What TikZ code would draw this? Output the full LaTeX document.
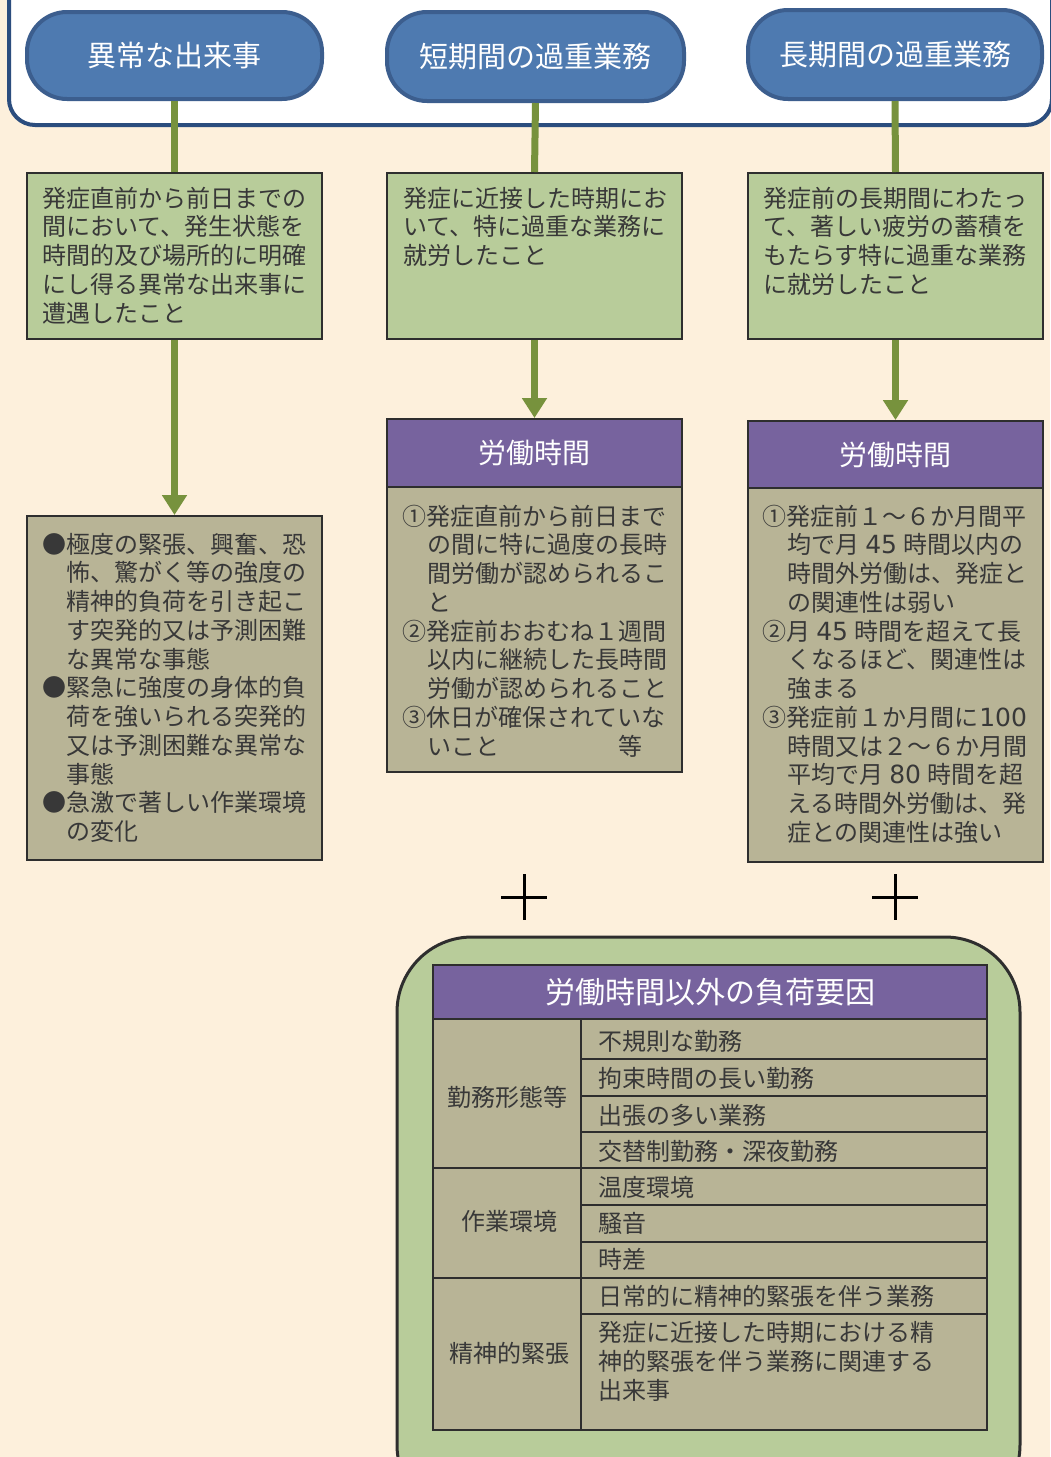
\documentclass[tikz,border=0pt]{standalone}
\usepackage{fontspec}
\setmainfont{Noto Sans CJK JP}
\newfontfamily\digfont{DejaVu Sans}
\usetikzlibrary{arrows.meta}
\definecolor{bg}{HTML}{FDF0DC}
\definecolor{frameblue}{HTML}{2B4D7E}
\definecolor{ovalfill}{HTML}{4E7AB0}
\definecolor{ovalline}{HTML}{3C5E8E}
\definecolor{lgreen}{HTML}{B8CC9A}
\definecolor{gline}{HTML}{77923D}
\definecolor{khaki}{HTML}{B8B496}
\definecolor{purp}{HTML}{77639E}
\definecolor{boxline}{HTML}{2E2E2E}
\definecolor{txt}{HTML}{383838}
\newcommand\dg[2]{\makebox[#1pt]{\digfont\fontsize{25}{28.75}\selectfont #2}}
\begin{document}
\begin{tikzpicture}[x=1pt,y=-1pt,
  oval/.style={draw=ovalline, line width=4pt, fill=ovalfill, rounded corners=40pt,
    minimum width=295pt, minimum height=87pt, inner sep=0pt, text=white,
    font=\fontsize{29}{34}\selectfont},
  gbox/.style={draw=boxline, line width=2pt, fill=lgreen, minimum width=295pt,
    minimum height=166pt, inner sep=0pt},
  kbox/.style={draw=boxline, line width=2pt, fill=khaki, minimum width=295pt, inner sep=0pt},
  phead/.style={draw=boxline, line width=2pt, fill=purp, minimum width=295pt, inner sep=0pt,
    text=white, font=\fontsize{28}{32}\selectfont},
  btext/.style={anchor=base west, inner sep=0pt, text width=300pt, align=left, text=txt,
    font=\fontsize{24}{28.75}\selectfont},
  rowtext/.style={anchor=west, inner sep=0pt, text=txt, font=\fontsize{24}{29}\selectfont},
  conn/.style={draw=gline, line width=7pt},
  arr/.style={conn, -{Triangle[width=24pt,length=20pt]}},
  rule/.style={draw=boxline, line width=2.5pt},
  plus/.style={draw=black, line width=3pt}
]
\useasboundingbox (0,0) rectangle (1050,1457);
\fill[bg] (0,0) rectangle (1050,1457);
% top frame
\draw[frameblue, line width=4pt, fill=white, rounded corners=26pt] (9,-60) rectangle (1052,125);
% ovals
\node[oval] (ov1) at (174.5,55.5) {異常な出来事};
\node[oval, minimum width=297pt, minimum height=89pt] (ov2) at (535.5,56.5) {短期間の過重業務};
\node[oval, minimum width=294pt, minimum height=89pt] (ov3) at (895,54.5) {長期間の過重業務};
% green boxes
\node[gbox] (gb1) at (174.5,256) {};
\node[gbox] (gb2) at (534.5,256) {};
\node[gbox] (gb3) at (895.5,256) {};
\draw[conn] (ov1.south) -- (gb1.north);
\draw[conn] (ov2.south) -- (gb2.north);
\draw[conn] (ov3.south) -- (gb3.north);
\node[btext] (gt1) at (42,207) {発症直前から前日までの\\間において、発生状態を\\時間的及び場所的に明確\\にし得る異常な出来事に\\遭遇したこと};
\node[btext] (gt2) at (403,207) {発症に近接した時期にお\\いて、特に過重な業務に\\就労したこと};
\node[btext] (gt3) at (763,207) {発症前の長期間にわたっ\\て、著しい疲労の蓄積を\\もたらす特に過重な業務\\に就労したこと};
% lower boxes
\node[kbox, minimum height=344pt] (kb1) at (174.5,688) {};
\node[phead, minimum height=68pt] (ph2) at (534.5,453) {労働時間};
\node[kbox, minimum height=285pt] (kb2) at (534.5,629.5) {};
\node[phead, minimum height=67pt] (ph3) at (895.5,454.5) {労働時間};
\node[kbox, minimum height=374pt] (kb3) at (895.5,675) {};
\draw[arr] (gb1.south) -- (kb1.north);
\draw[arr] (gb2.south) -- (ph2.north);
\draw[arr] (gb3.south) -- (ph3.north);
\node[btext] (kt1) at (42,553) {●極度の緊張、興奮、恐\\\hspace*{24pt}怖、驚がく等の強度の\\\hspace*{24pt}精神的負荷を引き起こ\\\hspace*{24pt}す突発的又は予測困難\\\hspace*{24pt}な異常な事態\\●緊急に強度の身体的負\\\hspace*{24pt}荷を強いられる突発的\\\hspace*{24pt}又は予測困難な異常な\\\hspace*{24pt}事態\\●急激で著しい作業環境\\\hspace*{24pt}の変化};
\node[btext] (kt2) at (402,525) {①発症直前から前日まで\\\hspace*{25pt}の間に特に過度の長時\\\hspace*{25pt}間労働が認められるこ\\\hspace*{25pt}と\\②発症前おおむね１週間\\\hspace*{25pt}以内に継続した長時間\\\hspace*{25pt}労働が認められること\\③休日が確保されていな\\\hspace*{25pt}いこと\hspace*{119pt}等};
\node[btext] (kt3) at (762,525) {①発症前１～６か月間平\\\hspace*{25pt}均で月\dg{44}{45}時間以内の\\\hspace*{25pt}時間外労働は、発症と\\\hspace*{25pt}の関連性は弱い\\②月\dg{44}{45}時間を超えて長\\\hspace*{25pt}くなるほど、関連性は\\\hspace*{25pt}強まる\\③発症前１か月間に\dg{50}{100}\\\hspace*{25pt}時間又は２～６か月間\\\hspace*{25pt}平均で月\dg{44}{80}時間を超\\\hspace*{25pt}える時間外労働は、発\\\hspace*{25pt}症との関連性は強い};
% plus signs
\draw[plus] (501,897) -- (547,897) (524,874) -- (524,920);
\draw[plus] (872,897) -- (918,897) (895,874) -- (895,920);
% bottom panel
\draw[boxline, line width=3pt, fill=lgreen, rounded corners=75pt] (397,937) rectangle (1020,1520);
\fill[khaki] (433,1019) rectangle (987,1430);
\node[phead, minimum width=554pt, minimum height=54pt, font=\fontsize{30}{35}\selectfont] (th) at (710,992) {労働時間以外の負荷要因};
\draw[rule] (581,1059) -- (987,1059) (581,1096) -- (987,1096) (581,1132) -- (987,1132)
  (433,1168) -- (987,1168) (581,1205) -- (987,1205) (581,1242) -- (987,1242)
  (433,1278) -- (987,1278) (581,1314) -- (987,1314) (581,1019) -- (581,1430);
\draw[rule] (433,1019) rectangle (987,1430);
\node[rowtext, anchor=center] (c1) at (507,1097) {勤務形態等};
\node[rowtext, anchor=center] (c2) at (509,1221) {作業環境};
\node[rowtext, anchor=center] (c3) at (509,1353) {精神的緊張};
\node[rowtext] (r1) at (598,1041) {不規則な勤務};
\node[rowtext] (r2) at (598,1078) {拘束時間の長い勤務};
\node[rowtext] (r3) at (598,1115) {出張の多い業務};
\node[rowtext] (r4) at (598,1151) {交替制勤務・深夜勤務};
\node[rowtext] (r5) at (598,1187) {温度環境};
\node[rowtext] (r6) at (598,1223) {騒音};
\node[rowtext] (r7) at (598,1259) {時差};
\node[rowtext] (r8) at (598,1296) {日常的に精神的緊張を伴う業務};
\node[btext, font=\fontsize{24}{29}\selectfont] (r9) at (598,1341) {発症に近接した時期における精\\神的緊張を伴う業務に関連する\\出来事};
\end{tikzpicture}
\end{document}
